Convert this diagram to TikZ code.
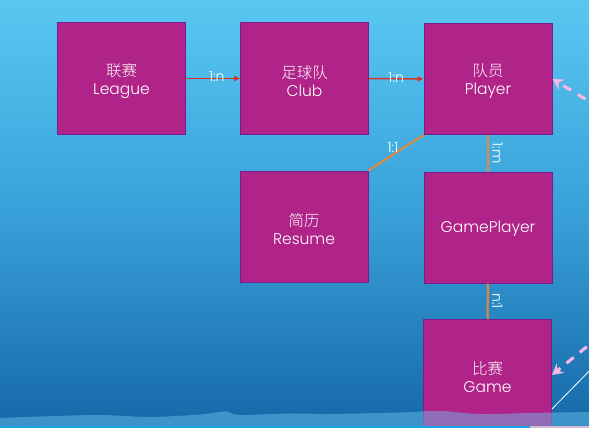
\documentclass[tikz,border=0pt]{standalone}
\usepackage{fontspec}
\setmainfont{Poppins Light}
\newfontfamily\cjk{Noto Sans CJK SC Light}
\usetikzlibrary{arrows.meta,calc}

\definecolor{boxfill}{RGB}{176,35,137}
\definecolor{boxline}{RGB}{120,30,140}
\definecolor{bgtop}{RGB}{88,200,242}
\definecolor{bgmid}{RGB}{56,160,217}
\definecolor{bgbot}{RGB}{22,104,168}
\definecolor{relred}{RGB}{214,52,40}
\definecolor{relorange}{RGB}{232,135,58}
\definecolor{hint}{RGB}{248,184,230}
\definecolor{wave}{RGB}{110,200,240}
\definecolor{cyanline}{RGB}{22,166,230}
\definecolor{pinkline}{RGB}{215,185,215}

\begin{document}
\begin{tikzpicture}[x=1pt,y=-1pt,
 entity/.style={rectangle, draw=boxline, line width=1pt, fill=boxfill, minimum width=128pt, minimum height=111pt, inner sep=0pt},
 etext/.style={text=white, align=center, font=\fontsize{15.5}{18}\selectfont, inner sep=0pt},
 one2many/.style={draw=relred, line width=1.5pt, -{Triangle[length=6pt,width=5pt]}},
 link/.style={draw=relorange, line width=2pt},
 card/.style={text=white, font=\fontsize{14}{15}\selectfont, inner sep=0pt},
 hintarrow/.style={draw=hint, line width=3pt, dash pattern=on 9pt off 8pt, -{Stealth[length=11pt,width=12pt,inset=4pt]}}]
\useasboundingbox (0,0) rectangle (589,428);
\clip (0,0) rectangle (589,428);
\shade[top color=bgtop, bottom color=bgmid] (0,0) rectangle (589,214.5);
\shade[top color=bgmid, bottom color=bgbot] (0,214) rectangle (589,428);

\node[entity] (league) at (121.5,78.5) {};
\node[entity] (club) at (304.5,78.5) {};
\node[entity] (player) at (488,79) {};
\node[entity] (resume) at (304,226.5) {};
\node[entity] (gp) at (488,227.5) {};
\node[entity] (game) at (487.5,375) {};
\node[etext] (leaguet) at ([yshift=-2.5pt]league.center) {{\cjk 联赛}\\League};
\node[etext] (clubt) at ([yshift=-2.5pt]club.center) {{\cjk 足球队}\\Club};
\node[etext] (playert) at ([yshift=-2.5pt]player.center) {{\cjk 队员}\\Player};
\node[etext] (resumet) at ([yshift=-2.5pt]resume.center) {{\cjk 简历}\\Resume};
\node[etext] (gpt) at ([yshift=-1.5pt]gp.center) {GamePlayer};
\node[etext] (gamet) at ([yshift=-2.5pt]game.center) {{\cjk 比赛}\\Game};

\draw[one2many] (league) -- node[card, pos=0.57, yshift=1.5pt]{1:n} (club);
\draw[one2many] (club) -- node[card, pos=0.5, yshift=1.5pt]{1:n} (player);
\draw[link] (player.south west) -- node[card, pos=0.5, xshift=-3pt, yshift=5pt]{1:1} (resume.north east);
\draw[link] (player) -- (gp);
\draw[link] (gp) -- (game);
\node[card, rotate=-90] (l1m) at ($(player.south)!0.5!(gp.north)+(9.5,0)$) {1:m};
\node[card, rotate=-90] (ln1) at ($(gp.south)!0.5!(game.north)+(9.5,0)$) {n:1};

\coordinate (h1) at (600,108);
\coordinate (h2) at (600,336);
\draw[hintarrow] (h1) -- (player.east);
\draw[hintarrow] (h2) -- (game.east);
\coordinate (w1) at (552,409);
\coordinate (w2) at (600,360);
\draw[white, line width=0.8pt] (w1) -- (w2);

\fill[wave, opacity=0.45] plot[smooth] coordinates {(0,418) (40,416.5) (100,415) (150,417) (200,414.5) (225,411.5) (240,415) (290,413.5) (330,414) (400,412.5) (440,411) (480,414) (530,413) (589,412)} -- (589,428) -- (0,428) -- cycle;
\fill[cyanline] (0,425.5) rectangle (530,428);
\fill[pinkline] (530,425.5) rectangle (589,428);
\end{tikzpicture}
\end{document}
